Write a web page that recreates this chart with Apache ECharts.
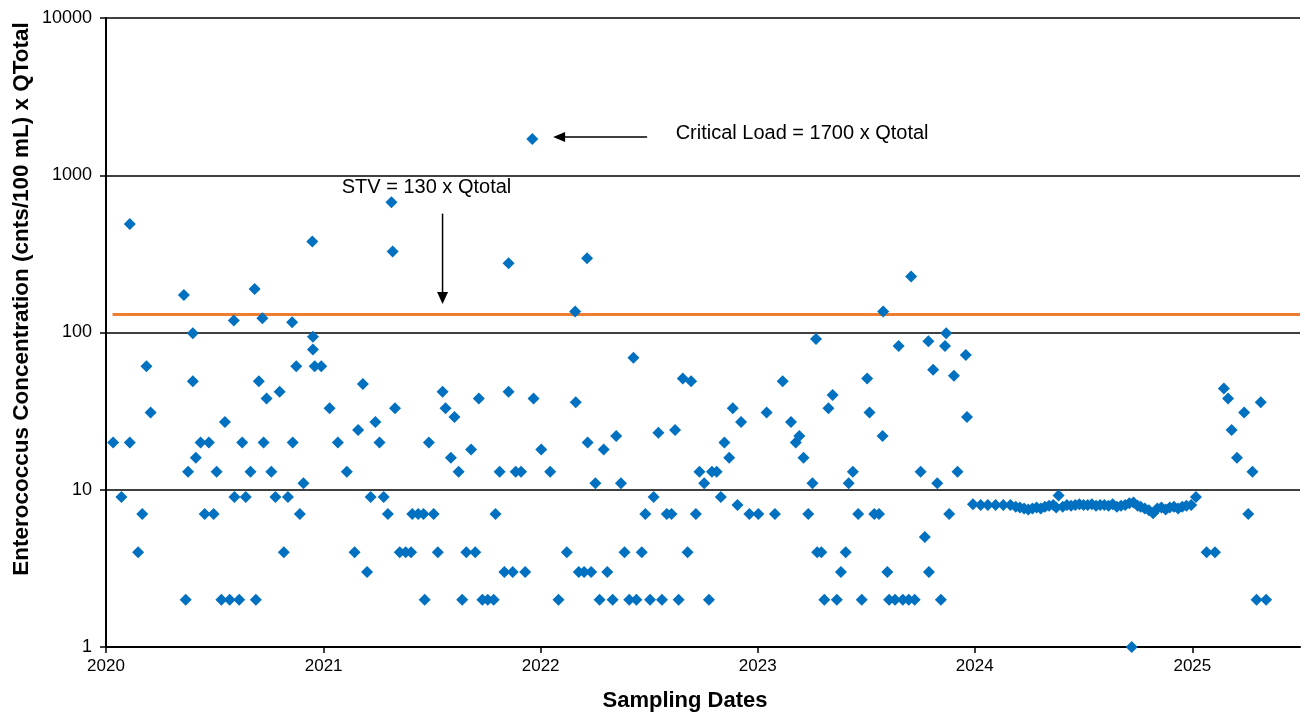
<!DOCTYPE html>
<html>
<head>
<meta charset="utf-8">
<title>Enterococcus Concentration x QTotal</title>
<script src="https://cdn.jsdelivr.net/npm/echarts@6/dist/echarts.min.js"></script>
<style>
  html, body { margin: 0; padding: 0; background: #fff; }
  #chart { width: 1305px; height: 722px; }
</style>
</head>
<body>
<div id="chart"></div>
<script>
// Sampling results: [date, Enterococcus (cnts/100 mL) x QTotal]
const samples2020 = [
  ['2020-01-13', 20], ['2020-01-27', 9], ['2020-02-10', 490], ['2020-02-10', 20],
  ['2020-02-24', 4], ['2020-03-02', 7], ['2020-03-09', 61], ['2020-03-16', 31],
  ['2020-05-11', 173], ['2020-05-14', 2], ['2020-05-18', 13], ['2020-05-26', 99],
  ['2020-05-26', 49], ['2020-05-31', 16], ['2020-06-08', 20], ['2020-06-15', 7],
  ['2020-06-22', 20], ['2020-06-30', 7], ['2020-07-05', 13], ['2020-07-13', 2],
  ['2020-07-19', 27], ['2020-07-27', 2], ['2020-08-03', 119], ['2020-08-04', 9],
  ['2020-08-12', 2], ['2020-08-17', 20], ['2020-08-23', 9], ['2020-08-31', 13],
  ['2020-09-07', 189], ['2020-09-09', 2], ['2020-09-14', 49], ['2020-09-20', 123],
  ['2020-09-22', 20], ['2020-09-27', 38], ['2020-10-05', 13], ['2020-10-12', 9],
  ['2020-10-19', 42], ['2020-10-26', 4], ['2020-11-02', 9], ['2020-11-09', 116],
  ['2020-11-10', 20], ['2020-11-16', 61], ['2020-11-22', 7], ['2020-11-28', 11],
  ['2020-12-13', 379], ['2020-12-14', 94], ['2020-12-14', 78], ['2020-12-17', 61],
  ['2020-12-28', 61]
];
const samples2021 = [
  ['2021-01-11', 33], ['2021-01-25', 20], ['2021-02-09', 13], ['2021-02-22', 4],
  ['2021-02-28', 24], ['2021-03-08', 47], ['2021-03-15', 3], ['2021-03-21', 9],
  ['2021-03-29', 27], ['2021-04-05', 20], ['2021-04-12', 9], ['2021-04-19', 7],
  ['2021-04-25', 673], ['2021-04-27', 327], ['2021-05-01', 33], ['2021-05-09', 4],
  ['2021-05-19', 4], ['2021-05-28', 4], ['2021-05-30', 7], ['2021-06-09', 7],
  ['2021-06-18', 7], ['2021-06-20', 2], ['2021-06-27', 20], ['2021-07-05', 7],
  ['2021-07-12', 4], ['2021-07-20', 42], ['2021-07-25', 33], ['2021-08-03', 16],
  ['2021-08-09', 29], ['2021-08-16', 13], ['2021-08-22', 2], ['2021-08-29', 4],
  ['2021-09-06', 18], ['2021-09-13', 4], ['2021-09-19', 38], ['2021-09-25', 2],
  ['2021-10-04', 2], ['2021-10-14', 2], ['2021-10-17', 7], ['2021-10-24', 13],
  ['2021-11-01', 3], ['2021-11-08', 276], ['2021-11-08', 42], ['2021-11-15', 3],
  ['2021-11-20', 13], ['2021-11-29', 13], ['2021-12-06', 3], ['2021-12-18', 1700],
  ['2021-12-20', 38]
];
const samples2022 = [
  ['2022-01-02', 18], ['2022-01-17', 13], ['2022-01-31', 2], ['2022-02-14', 4],
  ['2022-02-28', 136], ['2022-03-01', 36], ['2022-03-06', 3], ['2022-03-15', 3],
  ['2022-03-20', 297], ['2022-03-21', 20], ['2022-03-27', 3], ['2022-04-03', 11],
  ['2022-04-10', 2], ['2022-04-17', 18], ['2022-04-23', 3], ['2022-05-02', 2],
  ['2022-05-08', 22], ['2022-05-16', 11], ['2022-05-22', 4], ['2022-05-30', 2],
  ['2022-06-06', 69], ['2022-06-11', 2], ['2022-06-20', 4], ['2022-06-26', 7],
  ['2022-07-04', 2], ['2022-07-10', 9], ['2022-07-18', 23], ['2022-07-24', 2],
  ['2022-08-01', 7], ['2022-08-09', 7], ['2022-08-15', 24], ['2022-08-21', 2],
  ['2022-08-28', 51], ['2022-09-05', 4], ['2022-09-11', 49], ['2022-09-19', 7],
  ['2022-09-25', 13], ['2022-10-03', 11], ['2022-10-11', 2], ['2022-10-16', 13],
  ['2022-10-24', 13], ['2022-10-31', 9], ['2022-11-06', 20], ['2022-11-14', 16],
  ['2022-11-20', 33], ['2022-11-28', 8], ['2022-12-04', 27], ['2022-12-18', 7]
];
const samples2023 = [
  ['2023-01-02', 7], ['2023-01-16', 31], ['2023-01-30', 7], ['2023-02-12', 49],
  ['2023-02-26', 27], ['2023-03-06', 20], ['2023-03-12', 22], ['2023-03-19', 16],
  ['2023-03-27', 7], ['2023-04-03', 11], ['2023-04-09', 91], ['2023-04-11', 4],
  ['2023-04-18', 4], ['2023-04-23', 2], ['2023-04-30', 33], ['2023-05-07', 40],
  ['2023-05-14', 2], ['2023-05-21', 3], ['2023-05-29', 4], ['2023-06-03', 11],
  ['2023-06-10', 13], ['2023-06-19', 7], ['2023-06-25', 2], ['2023-07-04', 51],
  ['2023-07-08', 31], ['2023-07-16', 7], ['2023-07-24', 7], ['2023-07-30', 22],
  ['2023-07-31', 136], ['2023-08-07', 3], ['2023-08-10', 2], ['2023-08-20', 2],
  ['2023-08-26', 82], ['2023-09-02', 2], ['2023-09-12', 2], ['2023-09-16', 227],
  ['2023-09-22', 2], ['2023-10-02', 13], ['2023-10-09', 5], ['2023-10-15', 88],
  ['2023-10-16', 3], ['2023-10-23', 58], ['2023-10-30', 11], ['2023-11-05', 2],
  ['2023-11-12', 82], ['2023-11-14', 99], ['2023-11-19', 7], ['2023-11-27', 53],
  ['2023-12-03', 13], ['2023-12-17', 72], ['2023-12-19', 29], ['2023-12-29', 8.1]
];
const samples2024 = [
  ['2024-01-11', 8.0], ['2024-01-23', 8.0], ['2024-02-05', 8.0], ['2024-02-18', 8.0],
  ['2024-03-01', 8.0], ['2024-03-10', 7.8], ['2024-03-17', 7.7], ['2024-03-24', 7.6],
  ['2024-03-31', 7.5], ['2024-04-07', 7.6], ['2024-04-14', 7.7], ['2024-04-21', 7.6],
  ['2024-04-28', 7.8], ['2024-05-05', 7.9], ['2024-05-12', 8.0], ['2024-05-17', 7.7],
  ['2024-05-21', 9.2], ['2024-05-28', 7.8], ['2024-06-04', 8.0], ['2024-06-11', 7.9],
  ['2024-06-18', 8.0], ['2024-06-25', 8.1], ['2024-07-02', 8.0], ['2024-07-09', 8.0],
  ['2024-07-16', 8.1], ['2024-07-23', 7.9], ['2024-07-30', 8.0], ['2024-08-06', 8.0],
  ['2024-08-13', 7.9], ['2024-08-20', 8.1], ['2024-08-27', 7.8], ['2024-09-03', 7.9],
  ['2024-09-10', 8.0], ['2024-09-17', 8.2], ['2024-09-21', 1], ['2024-09-24', 8.3],
  ['2024-10-01', 7.9], ['2024-10-06', 7.8], ['2024-10-13', 7.6], ['2024-10-20', 7.4],
  ['2024-10-27', 7.1], ['2024-11-03', 7.6], ['2024-11-10', 7.7], ['2024-11-17', 7.5],
  ['2024-11-24', 7.7], ['2024-12-01', 7.8], ['2024-12-08', 7.6], ['2024-12-15', 7.8],
  ['2024-12-22', 7.9], ['2024-12-30', 8.0]
];
const samples2025 = [
  ['2025-01-07', 9], ['2025-01-25', 4], ['2025-02-08', 4], ['2025-02-23', 44],
  ['2025-03-02', 38], ['2025-03-08', 24], ['2025-03-17', 16], ['2025-03-29', 31],
  ['2025-04-05', 7], ['2025-04-12', 13], ['2025-04-19', 2], ['2025-04-26', 36],
  ['2025-05-05', 2]
];

// Single-sample threshold value (STV) line and critical load level
const stvValue = 130;
const stvLine = [['2020-01-12', stvValue], ['2025-07-01', stvValue]];
const criticalLoad = 1700;

// Axis range and labels
const dateMin = '2020-01-01';
const dateMax = '2025-07-01';
const yMin = 1;
const yMax = 10000;
const xTitle = 'Sampling Dates';
const yTitle = 'Enterococcus Concentration (cnts/100 mL) x QTotal';
const stvText = 'STV = 130 x Qtotal';
const criticalText = 'Critical Load = 1700 x Qtotal';

const allSamples = [].concat(samples2020, samples2021, samples2022,
                             samples2023, samples2024, samples2025);

const FONT = "'Liberation Sans', Arial, sans-serif";
const YEAR_MS = 365 * 24 * 3600 * 1000;

const chart = echarts.init(document.getElementById('chart'), null, { renderer: 'canvas' });

const option = {
  animation: false,
  backgroundColor: '#ffffff',
  grid: { left: 106, right: 5, top: 18, bottom: 75, containLabel: false },
  xAxis: {
    type: 'time',
    min: dateMin,
    max: dateMax,
    minInterval: YEAR_MS,
    splitNumber: 6,
    axisLine: { show: true, lineStyle: { color: '#000', width: 2 } },
    axisTick: { show: true, length: 6, lineStyle: { color: '#000', width: 1.5 } },
    axisLabel: {
      formatter: '{yyyy}',
      fontSize: 17,
      fontFamily: FONT,
      color: '#000',
      margin: 11,
      showMaxLabel: false
    },
    splitLine: { show: false }
  },
  yAxis: {
    type: 'log',
    logBase: 10,
    min: yMin,
    max: yMax,
    splitNumber: 4,
    axisLine: { show: true, lineStyle: { color: '#000', width: 2 } },
    axisTick: { show: true, length: 6, inside: false, lineStyle: { color: '#000', width: 1.5 } },
    axisLabel: {
      formatter: function (v) { return String(Math.round(v)); },
      fontSize: 18,
      fontFamily: FONT,
      color: '#000',
      margin: 14
    },
    splitLine: { show: true, lineStyle: { color: '#000', width: 1.5 } },
    minorTick: { show: false },
    minorSplitLine: { show: false }
  },
  series: [
    {
      name: 'STV',
      type: 'line',
      data: stvLine,
      symbol: 'none',
      lineStyle: { color: '#ED7D31', width: 3 },
      z: 2,
      silent: true
    },
    {
      name: 'Enterococcus x QTotal',
      type: 'scatter',
      data: allSamples,
      symbol: 'diamond',
      symbolSize: [12, 12],
      itemStyle: { color: '#0070C0', opacity: 1 },
      clip: false,
      z: 3
    }
  ]
};

chart.setOption(option);

// Annotations placed in data coordinates
function px(date, value) {
  return chart.convertToPixel({ gridIndex: 0 }, [date, value]);
}

const stvTop = px('2021-07-20', 570);
const stvTip = px('2021-07-20', 152);
const stvLabel = px('2021-06-23', 838);
const critTail = px('2022-06-29', 1750);
const critTip = px('2022-01-22', 1750);
const critLabel = px('2022-08-16', 1846);

const grid = chart.getModel().getComponent('grid').coordinateSystem.getRect();

chart.setOption({
  graphic: [
    // STV arrow (pointing down to the line)
    {
      type: 'line',
      shape: { x1: stvTop[0], y1: stvTop[1], x2: stvTip[0], y2: stvTip[1] - 10 },
      style: { stroke: '#000', lineWidth: 1.5 },
      z: 10
    },
    {
      type: 'polygon',
      shape: { points: [[stvTip[0], stvTip[1]], [stvTip[0] - 5.5, stvTip[1] - 12], [stvTip[0] + 5.5, stvTip[1] - 12]] },
      style: { fill: '#000' },
      z: 10
    },
    {
      type: 'text',
      x: stvLabel[0],
      y: stvLabel[1],
      style: {
        text: stvText,
        font: '20px ' + FONT,
        fill: '#000',
        textAlign: 'center',
        textVerticalAlign: 'middle'
      },
      z: 10
    },
    // Critical load arrow (pointing left to the sample)
    {
      type: 'line',
      shape: { x1: critTail[0], y1: critTail[1], x2: critTip[0] + 10, y2: critTip[1] },
      style: { stroke: '#000', lineWidth: 1.5 },
      z: 10
    },
    {
      type: 'polygon',
      shape: { points: [[critTip[0], critTip[1]], [critTip[0] + 12, critTip[1] - 5], [critTip[0] + 12, critTip[1] + 5]] },
      style: { fill: '#000' },
      z: 10
    },
    {
      type: 'text',
      x: critLabel[0],
      y: critLabel[1],
      style: {
        text: criticalText,
        font: '20px ' + FONT,
        fill: '#000',
        textAlign: 'left',
        textVerticalAlign: 'middle'
      },
      z: 10
    },
    // Axis titles
    {
      type: 'text',
      x: grid.x + grid.width / 2 - 18,
      y: 701,
      style: {
        text: xTitle,
        font: 'bold 22px ' + FONT,
        fill: '#000',
        textAlign: 'center',
        textVerticalAlign: 'middle'
      }
    },
    {
      type: 'text',
      x: 22,
      y: 299,
      rotation: Math.PI / 2,
      style: {
        text: yTitle,
        font: 'bold 22.5px ' + FONT,
        fill: '#000',
        textAlign: 'center',
        textVerticalAlign: 'middle'
      }
    }
  ]
});
</script>
</body>
</html>
